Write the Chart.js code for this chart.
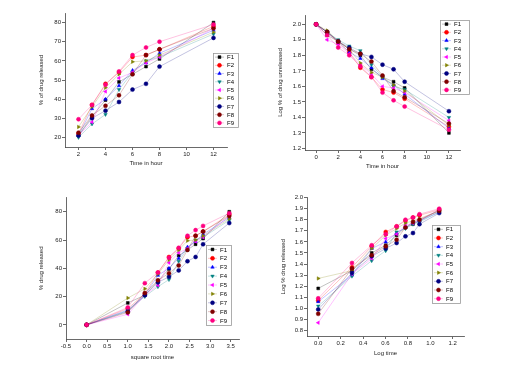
<!DOCTYPE html>
<html>
<head>
<meta charset="utf-8">
<script src="https://cdn.jsdelivr.net/npm/chart.js@4.4.0/dist/chart.umd.min.js"></script>
<style>
  body { margin: 0; background: #fff; }
  #wrap { position: relative; width: 512px; height: 386px; }
  canvas { position: absolute; }
</style>
</head>
<body>
<div id="wrap">
  <canvas id="c1" width="256" height="193" style="left:0;top:0"></canvas>
  <canvas id="c2" width="256" height="193" style="left:256px;top:0"></canvas>
  <canvas id="c3" width="256" height="193" style="left:0;top:193px"></canvas>
  <canvas id="c4" width="256" height="193" style="left:256px;top:193px"></canvas>
</div>
<script>
var names = ["F1", "F2", "F3", "F4", "F5", "F6", "F7", "F8", "F9"];
var colors = ["#000000", "#ff0000", "#0000ff", "#008080", "#ff00ff", "#808000", "#000080", "#800000", "#ff0080"];
var lineColors = ["rgba(0,0,0,0.3)", "rgba(255,0,0,0.3)", "rgba(0,0,255,0.3)", "rgba(0,128,128,0.3)", "rgba(255,0,255,0.3)",
                  "rgba(128,128,0,0.3)", "rgba(0,0,128,0.3)", "rgba(128,0,0,0.3)", "rgba(255,0,128,0.3)"];
var shapes = ["rect", "circle", "triangle", "triangle", "triangle", "triangle", "circle", "circle", "circle"];
var turns = [0, 0, 0, 180, -90, 90, 0, 0, 0];

// % drug released vs time (h)
var hours = [2, 3, 4, 5, 6, 7, 8, 12];
var released = [
  [21, 31, 39.5, 49, 53, 57, 61, 80],
  [22, 37, 48, 54, 62, 63, 66, 78],
  [21, 35, 40, 47, 55, 59, 64, 76],
  [20, 27, 32, 45, 54, 60, 62, 74],
  [21, 28, 44, 51, 54, 59, 62, 77],
  [25.5, 36, 46, 53, 59.5, 60, 63, 75],
  [21, 30, 34, 38.5, 45, 48, 57, 72],
  [22.5, 31.5, 36.5, 42, 53, 63, 66, 77],
  [29.5, 37, 47.5, 54.5, 63, 67, 70, 79]
];
// released at 1 h (seen on the root-time plot)
var releasedAt1 = [15.5, 11.5, 10.5, 10, 7.5, 19, 9.5, 8.8, 12.3];

// log % unreleased vs time
var hoursB = [0, 1, 2, 3, 4, 5, 6, 7, 8, 12];
var logUnreleased = [
  [2.0, 1.93, 1.89, 1.84, 1.80, 1.71, 1.66, 1.63, 1.59, 1.30],
  [2.0, 1.95, 1.88, 1.82, 1.72, 1.66, 1.58, 1.56, 1.52, 1.34],
  [2.0, 1.95, 1.89, 1.82, 1.78, 1.72, 1.65, 1.61, 1.55, 1.33],
  [2.0, 1.95, 1.90, 1.86, 1.83, 1.74, 1.66, 1.60, 1.58, 1.40],
  [2.0, 1.90, 1.87, 1.81, 1.74, 1.68, 1.60, 1.59, 1.56, 1.38],
  [2.0, 1.96, 1.89, 1.84, 1.75, 1.69, 1.66, 1.61, 1.57, 1.35],
  [2.0, 1.95, 1.89, 1.85, 1.81, 1.79, 1.74, 1.71, 1.63, 1.44],
  [2.0, 1.95, 1.89, 1.84, 1.81, 1.76, 1.67, 1.57, 1.53, 1.36],
  [2.0, 1.93, 1.85, 1.80, 1.73, 1.66, 1.56, 1.51, 1.47, 1.32]
];

// square root time
var rootHours = [0, 1, 1.414, 1.732, 2, 2.236, 2.449, 2.646, 2.828, 3.464];

// log % released vs log time
var logHours = [0, 0.301, 0.477, 0.602, 0.699, 0.778, 0.845, 0.903, 1.079];
var logReleased = [
  [1.18, 1.34, 1.50, 1.57, 1.66, 1.73, 1.76, 1.79, 1.89],
  [1.07, 1.37, 1.56, 1.69, 1.74, 1.79, 1.82, 1.84, 1.89],
  [1.06, 1.30, 1.54, 1.60, 1.68, 1.73, 1.77, 1.79, 1.87],
  [1.02, 1.29, 1.43, 1.52, 1.69, 1.72, 1.76, 1.78, 1.87],
  [0.87, 1.31, 1.45, 1.63, 1.67, 1.75, 1.77, 1.80, 1.89],
  [1.27, 1.34, 1.54, 1.66, 1.72, 1.77, 1.79, 1.81, 1.88],
  [0.99, 1.32, 1.47, 1.54, 1.59, 1.65, 1.68, 1.76, 1.86],
  [0.95, 1.36, 1.48, 1.56, 1.62, 1.73, 1.78, 1.80, 1.88],
  [1.09, 1.41, 1.57, 1.67, 1.74, 1.80, 1.82, 1.85, 1.90]
];

// tick labels
var ticksA_x = [2, 4, 6, 8, 10, 12];
var ticksA_y = [20, 30, 40, 50, 60, 70, 80];
var ticksB_x = [0, 2, 4, 6, 8, 10, 12];
var ticksB_y = [1.2, 1.3, 1.4, 1.5, 1.6, 1.7, 1.8, 1.9, 2.0];
var ticksC_x = [-0.5, 0, 0.5, 1, 1.5, 2, 2.5, 3, 3.5];
var ticksC_y = [0, 20, 40, 60, 80];
var ticksD_x = [0, 0.2, 0.4, 0.6, 0.8, 1.0, 1.2];
var ticksD_y = [0.8, 0.9, 1.0, 1.1, 1.2, 1.3, 1.4, 1.5, 1.6, 1.7, 1.8, 1.9, 2.0];

Chart.defaults.font.family = "'Liberation Sans', Arial, sans-serif";
Chart.defaults.font.size = 6;
Chart.defaults.color = "#222";

function pts(xs, ys) {
  return xs.map(function (x, i) { return { x: x, y: ys[i] }; });
}

// legend drawn inside the plot, like the original
var boxLegend = {
  id: "boxLegend",
  afterDraw: function (chart, args, o) {
    var ctx = chart.ctx;
    var sets = chart.data.datasets;
    var row = o.h / sets.length;
    ctx.save();
    ctx.fillStyle = "#fff";
    ctx.fillRect(o.x, o.y, o.w, o.h);
    ctx.strokeStyle = "#999";
    ctx.lineWidth = 0.8;
    ctx.strokeRect(o.x + 0.5, o.y + 0.5, o.w, o.h);
    sets.forEach(function (ds, i) {
      var cy = o.y + row * (i + 0.5);
      ctx.strokeStyle = ds.borderColor;
      ctx.lineWidth = 0.8;
      ctx.beginPath();
      ctx.moveTo(o.x + 2, cy);
      ctx.lineTo(o.x + 11, cy);
      ctx.stroke();
      ctx.fillStyle = ds.pointBackgroundColor;
      ctx.strokeStyle = ds.pointBorderColor;
      ctx.lineWidth = 0.5;
      if (Chart.helpers && Chart.helpers.drawPoint) {
        Chart.helpers.drawPoint(ctx, { pointStyle: ds.pointStyle, rotation: ds.pointRotation, radius: 2, borderWidth: 0.5 }, o.x + 6.5, cy);
      } else {
        ctx.beginPath(); ctx.arc(o.x + 6.5, cy, 2, 0, Math.PI * 2); ctx.fill();
      }
      ctx.fillStyle = "#000";
      ctx.font = "6px 'Liberation Sans', Arial, sans-serif";
      ctx.textBaseline = "middle";
      ctx.fillText(ds.label, o.x + 14, cy + 0.5);
    });
    ctx.restore();
  }
};

function axis(min, max, ticks, title, digits, size, horiz) {
  return {
    type: "linear",
    min: min,
    max: max,
    afterBuildTicks: function (s) { s.ticks = ticks.map(function (v) { return { value: v }; }); },
    afterFit: function (s) { if (horiz) s.height = size; else s.width = size; },
    ticks: {
      autoSkip: false,
      maxRotation: 0,
      padding: 1,
      callback: function (v) { return digits ? Number(v).toFixed(digits) : String(v); }
    },
    grid: { display: true, drawOnChartArea: false, drawTicks: true, tickLength: 3, color: "#444", lineWidth: 0.8 },
    border: { display: true, color: "#444", width: 0.8 },
    title: { display: true, text: title, padding: 0, font: { size: 6 } }
  };
}

function makeChart(id, xs, series, o) {
  new Chart(id, {
    type: "line",
    data: {
      datasets: series.map(function (ys, i) {
        return {
          label: names[i],
          data: pts(xs, ys),
          order: names.length - i,
          borderColor: lineColors[i],
          borderWidth: 0.8,
          backgroundColor: colors[i],
          pointBackgroundColor: colors[i],
          pointBorderColor: colors[i],
          pointBorderWidth: 0.5,
          pointStyle: shapes[i],
          pointRotation: turns[i],
          pointRadius: 2,
          tension: 0
        };
      })
    },
    options: {
      responsive: false,
      animation: false,
      events: [],
      layout: { padding: o.pad },
      plugins: { legend: { display: false }, tooltip: { enabled: false }, boxLegend: o.legend },
      scales: { x: o.x, y: o.y }
    },
    plugins: [boxLegend]
  });
}

// top left: % released vs time
makeChart("c1", hours, released, {
  pad: { left: 38, right: 29, top: 13, bottom: 26 },
  x: axis(1, 13, ticksA_x, "Time in hour", 0, 20, true),
  y: axis(15, 85, ticksA_y, "% of drug released", 0, 27, false),
  legend: { x: 213, y: 53, w: 25, h: 74 }
});

// top right: log % unreleased vs time
makeChart("c2", hoursB, logUnreleased, {
  pad: { left: 21, right: 52, top: 15, bottom: 23 },
  x: axis(-1, 13, ticksB_x, "Time in hour", 0, 20, true),
  y: axis(1.19, 2.06, ticksB_y, "Log % of drug unreleased", 1, 28, false),
  legend: { x: 184, y: 20, w: 29, h: 74 }
});

// bottom left: % released vs square root time
var rootSeries = released.map(function (ys, i) { return [0, releasedAt1[i]].concat(ys); });
makeChart("c3", rootHours, rootSeries, {
  pad: { left: 38, right: 17, top: 2, bottom: 25 },
  x: axis(-0.5, 3.7, ticksC_x, "square root time", 1, 22, true),
  y: axis(-10, 90, ticksC_y, "% drug released", 0, 28, false),
  legend: { x: 206, y: 52, w: 25, h: 80 }
});

// bottom right: log % released vs log time
makeChart("c4", logHours, logReleased, {
  pad: { left: 24, right: 48, top: 3, bottom: 29 },
  x: axis(-0.1, 1.3, ticksD_x, "Log time", 1, 21, true),
  y: axis(0.75, 2.0, ticksD_y, "Log % drug released", 1, 27, false),
  legend: { x: 176, y: 32, w: 28, h: 78 }
});
</script>
</body>
</html>
